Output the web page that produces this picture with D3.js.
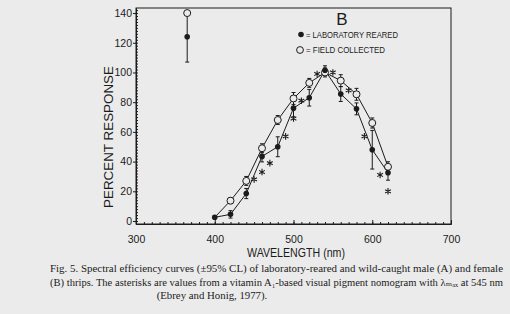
<!DOCTYPE html>
<html>
<head>
<meta charset="utf-8">
<script src="https://cdn.jsdelivr.net/npm/d3@7"></script>
<style>
  body { margin: 0; background: #ebebeb; }
  svg { display: block; }
</style>
</head>
<body>
<svg id="chart" width="510" height="314"></svg>
<script>
// wavelengths (nm) of the test lights
const wavelengths = [400, 420, 440, 460, 480, 500, 520, 540, 560, 580, 600, 620]
// laboratory reared, mean and 95% CL half width
const labReared = [2.5, 4.5, 18.5, 43.5, 50, 76, 83, 101.5, 85.5, 75.5, 48, 32.5]
const labCI = [1, 2.5, 3.4, 3.7, 6.7, 5.8, 5.6, 3, 5, 4, 13, 5]
// field collected
const fieldCollected = [2.5, 13.7, 27, 49, 68, 82.5, 93, 100, 94.5, 85.3, 66, 36.5]
const fieldCI = [0, 2, 3, 3, 3, 4, 3, 3, 4, 4, 3.4, 3.4]
// the lone UV point
const uvWavelength = [365]
const uvLab = [124]
const uvLabCI = [17]
const uvField = [140]
// nomogram asterisks
const nomogramNm = [450, 460, 470, 490, 500, 510, 530, 550, 570, 590, 610, 620]
const nomogramValues = [28, 33, 39, 57, 69, 81, 99, 100, 88, 57, 31, 20]
// axis ticks
const xTicks = [300, 400, 500, 600, 700]
const yTicks = [0, 20, 40, 60, 80, 100, 120, 140]

const ink = '#1b1b1b'
const paper = '#ebebeb'
const sans = '"Liberation Sans", Arial, sans-serif'

const svg = d3.select('#chart')

const x = d3.scaleLinear().domain([300, 700]).range([136, 451])
const y = d3.scaleLinear().domain([-2, 143.4]).range([224, 8])

// frame
svg.append('rect')
  .attr('x', x(300)).attr('y', y(143.4))
  .attr('width', x(700) - x(300)).attr('height', y(-2) - y(143.4))
  .attr('fill', 'none').attr('stroke', ink).attr('stroke-width', 1)

// x axis, minor then major
svg.append('g').attr('transform', `translate(0,${y(-2)})`)
  .call(d3.axisBottom(x).tickValues(d3.range(300, 701, 10)).tickSize(-2).tickSizeOuter(0).tickFormat(''))
const xMajor = svg.append('g').attr('transform', `translate(0,${y(-2)})`)
  .call(d3.axisBottom(x).tickValues(xTicks).tickSize(-4).tickSizeOuter(0).tickPadding(12))
xMajor.selectAll('text').style('font-size', '10.5px')

// y axis
svg.append('g').attr('transform', `translate(${x(300)},0)`)
  .call(d3.axisLeft(y).tickValues(d3.range(0, 143, 2)).tickSize(-2).tickSizeOuter(0).tickFormat(''))
const yMajor = svg.append('g').attr('transform', `translate(${x(300)},0)`)
  .call(d3.axisLeft(y).tickValues(yTicks).tickSize(3).tickSizeOuter(0).tickPadding(1))
yMajor.selectAll('text').style('font-size', '10.5px')

svg.selectAll('.domain, .tick line').attr('stroke', ink)
svg.selectAll('.tick text')
  .attr('fill', ink)
  .style('font-family', sans)

// axis titles
svg.append('text')
  .attr('x', 247).attr('y', 257)
  .attr('textLength', 98).attr('lengthAdjust', 'spacingAndGlyphs')
  .style('font-family', sans)
  .style('font-size', '12px')
  .attr('fill', ink)
  .text('WAVELENGTH (nm)')

svg.append('text')
  .attr('transform', 'translate(113,208) rotate(-90)')
  .attr('textLength', 142).attr('lengthAdjust', 'spacingAndGlyphs')
  .style('font-family', sans)
  .style('font-size', '13px')
  .attr('fill', ink)
  .text('PERCENT RESPONSE')

// curves
const line = d3.line()
  .x(d => x(d[0]))
  .y(d => y(d[1]))

const labPts = wavelengths.map((w, i) => [w, labReared[i], labCI[i]])
const fieldPts = wavelengths.map((w, i) => [w, fieldCollected[i], fieldCI[i]])

svg.append('path').datum(fieldPts)
  .attr('d', line).attr('fill', 'none').attr('stroke', ink).attr('stroke-width', 1)
svg.append('path').datum(labPts)
  .attr('d', line).attr('fill', 'none').attr('stroke', ink).attr('stroke-width', 1)

// error bars
const uvLabPts = uvWavelength.map((w, i) => [w, uvLab[i], uvLabCI[i]])
const barPts = [...labPts, ...fieldPts, ...uvLabPts].filter(d => d[2] > 0.5)

const bars = svg.append('g').attr('stroke', ink).attr('stroke-width', 1)
bars.selectAll('line.bar').data(barPts).join('line')
  .attr('class', 'bar')
  .attr('x1', d => x(d[0])).attr('x2', d => x(d[0]))
  .attr('y1', d => y(d[1] - d[2])).attr('y2', d => y(d[1] + d[2]))
bars.selectAll('line.capTop').data(barPts).join('line')
  .attr('class', 'capTop')
  .attr('x1', d => x(d[0]) - 2).attr('x2', d => x(d[0]) + 2)
  .attr('y1', d => y(d[1] + d[2])).attr('y2', d => y(d[1] + d[2]))
bars.selectAll('line.capBot').data(barPts).join('line')
  .attr('class', 'capBot')
  .attr('x1', d => x(d[0]) - 2).attr('x2', d => x(d[0]) + 2)
  .attr('y1', d => y(d[1] - d[2])).attr('y2', d => y(d[1] - d[2]))

// markers
const uvFieldPts = uvWavelength.map((w, i) => [w, uvField[i]])

svg.append('g').selectAll('circle').data([...fieldPts.slice(1), ...uvFieldPts]).join('circle')
  .attr('cx', d => x(d[0])).attr('cy', d => y(d[1]))
  .attr('r', 3.5)
  .attr('fill', paper).attr('stroke', ink).attr('stroke-width', 1)

svg.append('g').selectAll('circle').data([...labPts, ...uvLabPts]).join('circle')
  .attr('cx', d => x(d[0])).attr('cy', d => y(d[1]))
  .attr('r', 2.8)
  .attr('fill', ink)

// nomogram asterisks
const star = d3.symbol().type(d3.symbolAsterisk).size(30)
svg.append('g').selectAll('path').data(nomogramNm.map((w, i) => [w, nomogramValues[i]])).join('path')
  .attr('transform', d => `translate(${x(d[0])},${y(d[1])})`)
  .attr('d', star)
  .attr('fill', 'none').attr('stroke', ink).attr('stroke-width', 1.1)

// legend
const legend = svg.append('g')
  .style('font-family', sans)
  .attr('fill', ink)
legend.append('text')
  .attr('x', 342).attr('y', 25)
  .attr('text-anchor', 'middle')
  .style('font-size', '17px')
  .text('B')
legend.append('circle').attr('cx', 301).attr('cy', 34.5).attr('r', 2.8).attr('fill', ink)
legend.append('text')
  .attr('x', 306).attr('y', 37.5)
  .attr('textLength', 92).attr('lengthAdjust', 'spacingAndGlyphs')
  .style('font-size', '8.4px')
  .text('= LABORATORY REARED')
legend.append('circle').attr('cx', 300).attr('cy', 50).attr('r', 3.4)
  .attr('fill', paper).attr('stroke', ink)
legend.append('text')
  .attr('x', 306).attr('y', 53)
  .attr('textLength', 79).attr('lengthAdjust', 'spacingAndGlyphs')
  .style('font-size', '8.4px')
  .text('= FIELD COLLECTED')

// caption
const caption = svg.append('g')
  .style('font-family', '"Liberation Serif", "DejaVu Serif", serif')
  .style('font-size', '10.4px')
  .attr('fill', ink)
caption.append('text')
  .attr('x', 50).attr('y', 272)
  .attr('textLength', 453).attr('lengthAdjust', 'spacingAndGlyphs')
  .text('Fig. 5. Spectral efficiency curves (\u00b195% CL) of laboratory-reared and wild-caught male (A) and female')
caption.append('text')
  .attr('x', 50).attr('y', 285.5)
  .attr('textLength', 453).attr('lengthAdjust', 'spacingAndGlyphs')
  .style('font-size', '10px')
  .text('(B) thrips. The asterisks are values from a vitamin A\u2081-based visual pigment nomogram with \u03bb\u2098\u2090\u2093 at 545 nm')
caption.append('text')
  .attr('x', 212).attr('y', 298.5)
  .attr('text-anchor', 'middle')
  .style('font-size', '10.8px')
  .text('(Ebrey and Honig, 1977).')
</script>
</body>
</html>
